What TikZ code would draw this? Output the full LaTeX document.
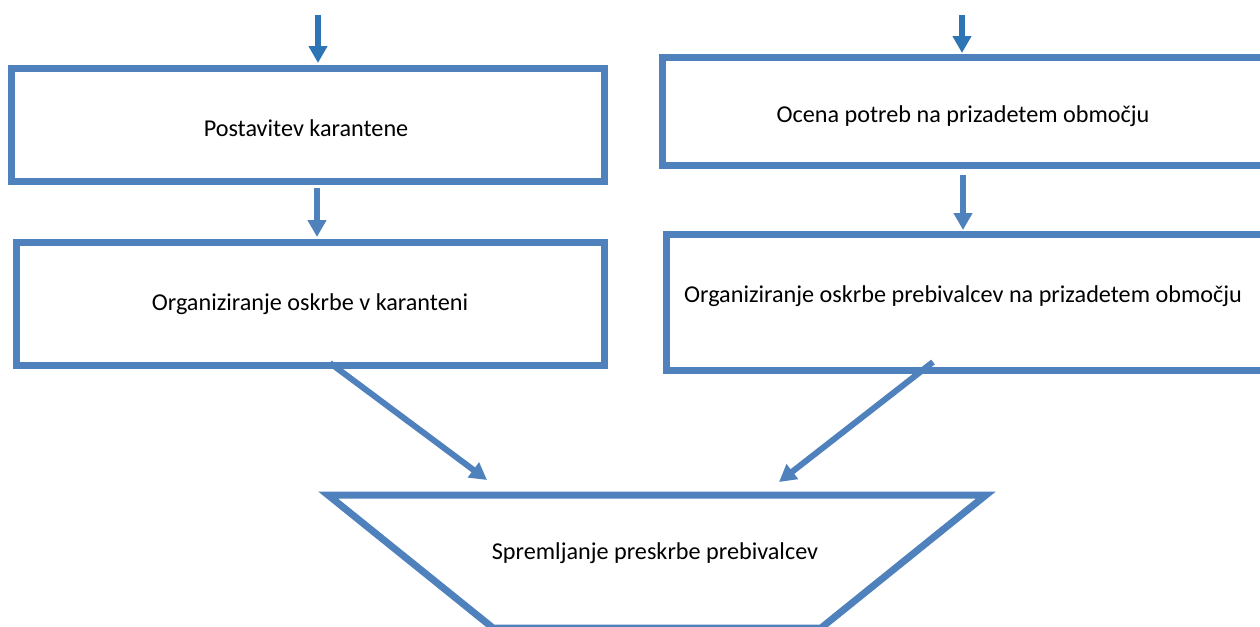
\documentclass[tikz,border=0pt]{standalone}
\usepackage{fontspec}
\setmainfont{Carlito}
\usepackage{tikz}
\usetikzlibrary{arrows.meta}
\usepackage{xcolor}
\definecolor{boxblue}{RGB}{79,129,189}
\definecolor{topblue}{RGB}{46,117,182}
\tikzstyle{step box}=[rectangle, draw=boxblue, line width=3.5pt, fill=white, inner sep=0pt, align=center, font=\fontsize{12.1pt}{14pt}\selectfont]
\tikzstyle{caption} = [inner sep=0pt, font=\fontsize{12.1pt}{14pt}\selectfont]
\tikzstyle{flow} = [draw=boxblue, line width=3pt, -{Triangle[length=8.5pt, width=9pt]}, boxblue]
\tikzstyle{entry} = [flow, draw=topblue, topblue]
\tikzstyle{edge} = [draw=boxblue, line width=3.5pt, line join=miter]

\begin{document}
\begin{tikzpicture}[x=0.5pt, y=-0.5pt]
					\useasboundingbox (0,0) rectangle (1260,627);
					\clip (0,0) rectangle (1260,627);

					\node[step box, minimum width=296.25pt, minimum height=56.5pt] (quar) at (308, 125) {};
					\node[step box, minimum width=293.75pt, minimum height=61.5pt] (care) at (310.25, 304) {};
					\node[step box, minimum width=318.75pt, minimum height=54pt] (need) at (981, 111.5) {};
					\node[step box, minimum width=316.75pt, minimum height=67.75pt] (supply) at (983, 302.25) {};

					\node[caption] (quar_t) at (306, 128) {Postavitev karantene};
					\node[caption] (care_t) at (310, 304) {Organiziranje oskrbe v karanteni};
					\node[caption] (need_t) at (963, 116) {Ocena potreb na prizadetem območju};
					\node[caption] (supply_t) at (963, 296) {Organiziranje oskrbe prebivalcev na prizadetem območju};

					% incoming arrows
					\coordinate (in_1) at (318, 15);
					\coordinate (in_2) at (962, 15);
					\draw[entry, shorten >=1pt] (in_1) -- (in_1 |- quar.north);
					\draw[entry, shorten >=0.5pt] (in_2) -- (in_2 |- need.north);

					\coordinate (mid_1) at (317, 0);
					\coordinate (mid_2) at (963, 0);
					\draw[flow, shorten <=1.5pt, shorten >=1pt] (mid_1 |- quar.south) -- (mid_1 |- care.north);
					\draw[flow, shorten <=3pt, shorten >=0.5pt] (mid_2 |- need.south) -- (mid_2 |- supply.north);

					% funnel
					\coordinate (f_1) at (328, 495);
					\coordinate (f_2) at (986, 495);
					\coordinate (f_3) at (821, 628);
					\coordinate (f_4) at (493, 628);
					\draw[edge] (f_1) -- (f_2) -- (f_3) -- (f_4) -- cycle;
					\node[caption] (track) at (655, 553) {Spremljanje preskrbe prebivalcev};

					\coordinate (d_1) at (330, 363);
					\coordinate (d_2) at (487, 480);
					\coordinate (d_3) at (933, 362);
					\coordinate (d_4) at (779, 482);
					\draw[flow] (d_1) -- (d_2);
					\draw[flow] (d_3) -- (d_4);
				\end{tikzpicture}
\end{document}
